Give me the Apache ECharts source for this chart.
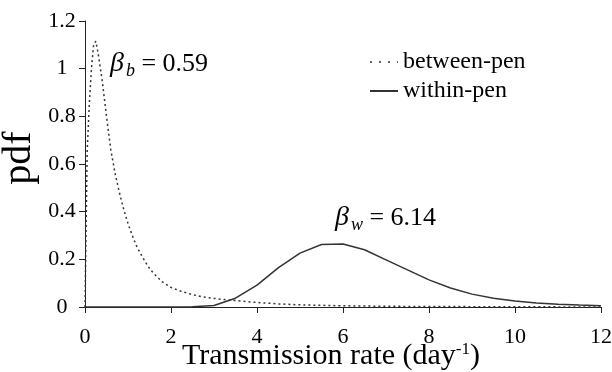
<!DOCTYPE html>
<html>
<head>
<meta charset="utf-8">
<script src="https://cdn.jsdelivr.net/npm/echarts@6/dist/echarts.min.js"></script>
<style>html,body{margin:0;padding:0;background:#fff;}#c{width:612px;height:372px;}</style>
</head>
<body>
<div id="c"></div>
<script>
// between-pen pdf (dotted)
const betweenX = [0, 0.05, 0.1, 0.15, 0.2, 0.25, 0.3, 0.4, 0.5, 0.6, 0.7, 0.8, 0.9, 1.0, 1.1, 1.2, 1.3, 1.4, 1.5, 1.6, 1.8, 2.0, 2.25, 2.5, 2.75, 3.0, 3.25, 3.5, 4, 4.5, 5, 6, 7, 8, 10, 12];
const betweenY = [0, 0.65, 0.85, 1.0, 1.1, 1.115, 1.07, 0.95, 0.8, 0.66, 0.56, 0.48, 0.41, 0.35, 0.30, 0.255, 0.222, 0.19, 0.162, 0.14, 0.105, 0.082, 0.065, 0.052, 0.042, 0.036, 0.031, 0.027, 0.019, 0.013, 0.009, 0.005, 0.003, 0.002, 0.001, 0];
// within-pen pdf (solid)
const withinX = [0, 0.5, 1, 1.5, 2, 2.5, 3, 3.5, 4, 4.5, 5, 5.5, 6, 6.5, 7, 7.5, 8, 8.5, 9, 9.5, 10, 10.5, 11, 11.5, 12];
const withinY = [0, 0, 0, 0, 0, 0.001, 0.006, 0.037, 0.092, 0.165, 0.226, 0.262, 0.264, 0.24, 0.198, 0.156, 0.114, 0.08, 0.054, 0.037, 0.025, 0.017, 0.012, 0.008, 0.005];
const xTicks = [0, 2, 4, 6, 8, 10, 12];
const yTicks = [0, 0.2, 0.4, 0.6, 0.8, 1, 1.2];
const seriesNames = ['between-pen', 'within-pen'];

const chart = echarts.init(document.getElementById('c'));
const serif = 'Liberation Serif';
const axisCol = '#222';
chart.setOption({
  animation: false,
  backgroundColor: '#fff',
  textStyle: { fontFamily: serif },
  grid: { left: 85, right: 11, top: 21, bottom: 65, containLabel: false, outerBoundsMode: 'none' },
  legend: {
    orient: 'vertical',
    left: 369,
    top: 50,
    padding: 0,
    itemWidth: 28,
    itemHeight: 14,
    itemGap: 5,
    itemStyle: { opacity: 0 },
    textStyle: { fontFamily: serif, fontSize: 24, lineHeight: 24, color: '#000' },
    data: [
      { name: seriesNames[0], lineStyle: { type: [2, 7], width: 1.5 } },
      { name: seriesNames[1] }
    ]
  },
  xAxis: {
    type: 'value',
    min: xTicks[0],
    max: xTicks[xTicks.length - 1],
    interval: 2,
    axisLine: { lineStyle: { color: axisCol, width: 1 } },
    axisTick: { show: true, inside: false, length: 6, lineStyle: { color: axisCol } },
    axisLabel: { fontFamily: serif, fontSize: 22, color: '#000', margin: 19 },
    splitLine: { show: false },
    name: '{t|Transmission rate (day}{s|-1}{t|)}',
    nameLocation: 'middle',
    nameGap: 34,
    nameMoveOverlap: false,
    nameTextStyle: {
      padding: [0, 24, 0, 0],
      rich: {
        t: { fontFamily: serif, fontSize: 30, color: '#000', lineHeight: 30 },
        s: { fontFamily: serif, fontSize: 17, color: '#000', verticalAlign: 'top', lineHeight: 30, padding: [0, 0, 12, 0] }
      }
    }
  },
  yAxis: {
    type: 'value',
    min: yTicks[0],
    max: yTicks[yTicks.length - 1],
    interval: 0.2,
    axisLine: { show: true, lineStyle: { color: axisCol, width: 1 } },
    axisTick: { show: true, inside: false, length: 6, lineStyle: { color: axisCol } },
    axisLabel: { fontFamily: serif, fontSize: 22, color: '#000', margin: 23, align: 'center' },
    splitLine: { show: false },
    name: 'pdf',
    nameLocation: 'middle',
    nameGap: 46,
    nameMoveOverlap: false,
    nameTextStyle: { fontFamily: serif, fontSize: 40, color: '#000', padding: [0, 0, 0, 12] }
  },
  series: [
    {
      name: seriesNames[0],
      type: 'line',
      symbol: 'none',
      data: betweenX.map((x, i) => [x, betweenY[i]]),
      lineStyle: { color: '#333', width: 1.5, type: [2, 3] },
      itemStyle: { color: '#333' },
      z: 3
    },
    {
      name: seriesNames[1],
      type: 'line',
      symbol: 'none',
      data: withinX.map((x, i) => [x, withinY[i]]),
      lineStyle: { color: '#333', width: 1.5, type: 'solid' },
      itemStyle: { color: '#333' },
      z: 2
    }
  ],
  graphic: [
    {
      type: 'text', left: 110, top: 50,
      style: {
        text: '{b|β}{s|b}{t| = 0.59}',
        rich: {
          b: { fontFamily: serif, fontStyle: 'italic', fontSize: 28, color: '#000', lineHeight: 32 },
          s: { fontFamily: serif, fontStyle: 'italic', fontSize: 18, color: '#000', verticalAlign: 'bottom', lineHeight: 32, padding: [10, 0, 0, 2] },
          t: { fontFamily: serif, fontSize: 26, color: '#000', lineHeight: 32 }
        }
      }
    },
    {
      type: 'text', left: 335, top: 204,
      style: {
        text: '{b|β}{s|w}{t| = 6.14}',
        rich: {
          b: { fontFamily: serif, fontStyle: 'italic', fontSize: 28, color: '#000', lineHeight: 32 },
          s: { fontFamily: serif, fontStyle: 'italic', fontSize: 18, color: '#000', verticalAlign: 'bottom', lineHeight: 32, padding: [10, 0, 0, 2] },
          t: { fontFamily: serif, fontSize: 26, color: '#000', lineHeight: 32 }
        }
      }
    }
  ]
});
</script>
</body>
</html>
